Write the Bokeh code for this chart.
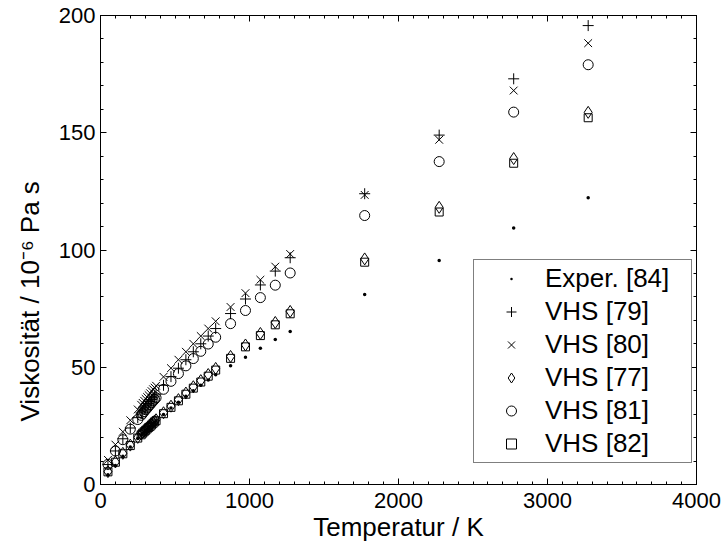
from bokeh.plotting import figure
from bokeh.models import (LinearAxis, Range1d, SingleIntervalTicker, Legend, LegendItem,
                          Title, CustomJSTickFormatter)
from bokeh.embed import file_html
from bokeh.resources import INLINE

# Temperature in K
temperature = [50, 100, 150, 200, 250, 273, 283, 293, 303, 313, 323, 333, 343, 353, 363, 373,
               423, 473, 523, 573, 623, 673, 723, 773, 873, 973, 1073, 1173, 1273,
               1773, 2273, 2773, 3273]
# Viscosity in 1e-6 Pa s
exper_84 = [4.2, 8.1, 12.1, 16.0, 19.6, 21.0, 21.7, 22.3, 22.9, 23.5, 24.1, 24.7, 25.3, 25.9, 26.5, 27.1,
            29.9, 32.6, 35.1, 37.6, 40.0, 42.3, 44.6, 46.8, 50.6, 54.3, 58.1, 61.8, 65.2,
            81.0, 95.5, 109.4, 122.3]
vhs_79 = [8.5, 14.3, 19.5, 24.1, 28.5, 30.5, 31.3, 32.1, 33.0, 33.8, 34.6, 35.4, 36.2, 37.0, 37.7, 38.5,
          42.3, 46.0, 49.6, 53.2, 56.6, 60.0, 63.3, 66.5, 72.9, 79.1, 85.1, 91.0, 96.7,
          124.0, 149.0, 173.0, 195.7]
vhs_80 = [10.5, 17.0, 22.5, 27.4, 32.0, 34.0, 34.8, 35.7, 36.5, 37.3, 38.1, 38.9, 39.8, 40.6, 41.3, 42.1,
          45.9, 49.6, 53.2, 56.6, 60.0, 63.3, 66.5, 69.6, 75.7, 81.6, 87.3, 92.9, 98.3,
          123.5, 147.0, 168.0, 188.2]
vhs_77 = [5.5, 9.6, 13.3, 16.8, 20.1, 21.5, 22.2, 22.8, 23.4, 24.0, 24.6, 25.2, 25.8, 26.5, 27.1, 27.6,
          30.6, 33.4, 36.2, 39.0, 41.7, 44.3, 46.9, 49.5, 54.6, 59.5, 64.4, 69.1, 73.8,
          96.2, 118.2, 139.0, 158.7]
vhs_81 = [8.6, 14.3, 19.1, 23.6, 27.7, 29.5, 30.3, 31.1, 31.9, 32.6, 33.4, 34.1, 34.9, 35.6, 36.3, 37.0,
          40.6, 44.0, 47.3, 50.6, 53.7, 56.8, 59.9, 62.8, 68.6, 74.2, 79.7, 85.0, 90.2,
          114.7, 137.7, 158.8, 179.0]
vhs_82 = [5.4, 9.5, 13.1, 16.6, 19.8, 21.2, 21.9, 22.5, 23.1, 23.7, 24.3, 24.8, 25.4, 26.1, 26.7, 27.2,
          30.2, 32.9, 35.7, 38.5, 41.1, 43.7, 46.2, 48.8, 53.8, 58.7, 63.5, 68.1, 72.8,
          94.8, 116.2, 137.0, 156.4]

legend_labels = ["Exper. [84]", "VHS [79]", "VHS [80]", "VHS [77]", "VHS [81]", "VHS [82]"]
x_title = "Temperatur / K"
y_title = "Viskosität / 10⁻⁶ Pa s"

FONT = "Liberation Sans"

p = figure(width=726, height=549, output_backend="svg", toolbar_location=None,
           x_range=Range1d(0, 4000), y_range=Range1d(0, 200),
           min_border_left=100, min_border_right=30, min_border_top=15, min_border_bottom=65)
p.background_fill_color = "white"
p.border_fill_color = "white"
p.outline_line_color = "black"
p.outline_line_width = 1
p.xgrid.visible = False
p.ygrid.visible = False


def style_axis(ax, show_labels=True):
    ax.major_tick_in = 6
    ax.major_tick_out = 0
    ax.minor_tick_in = 3
    ax.minor_tick_out = 0
    ax.axis_line_color = "black"
    ax.major_tick_line_color = "black"
    ax.minor_tick_line_color = "black"
    ax.major_label_text_font = FONT
    ax.major_label_text_color = "black"
    ax.axis_label_text_font = FONT
    ax.axis_label_text_font_style = "normal"
    ax.axis_label_text_color = "black"
    if not show_labels:
        ax.formatter = CustomJSTickFormatter(code="return ''")
        ax.major_label_standoff = 0


xa = p.xaxis[0]
xa.ticker = SingleIntervalTicker(interval=1000, num_minor_ticks=10)
style_axis(xa)
xa.major_label_text_font_size = "22px"
xa.major_label_standoff = 8
xa.axis_label = x_title
xa.axis_label_text_font_size = "26px"
xa.axis_label_standoff = 1

ya = p.yaxis[0]
ya.ticker = SingleIntervalTicker(interval=50, num_minor_ticks=5)
style_axis(ya)
ya.major_label_text_font_size = "22px"
ya.major_label_standoff = 5

top = LinearAxis(ticker=SingleIntervalTicker(interval=1000, num_minor_ticks=10))
style_axis(top, show_labels=False)
p.add_layout(top, "above")
right = LinearAxis(ticker=SingleIntervalTicker(interval=50, num_minor_ticks=5))
style_axis(right, show_labels=False)
p.add_layout(right, "right")

# y-axis title: sits somewhat lower than the frame centre, as in the reference
ytitle = Title(text=y_title, align="left", offset=63, vertical_align="middle",
               standoff=20, text_font=FONT, text_font_size="26px",
               text_font_style="normal", text_color="black")
p.add_layout(ytitle, "left")

r_exp = p.scatter(temperature, exper_84, marker="dot", size=14,
                  line_color="black", fill_color="black")
r79 = p.scatter(temperature, vhs_79, marker="cross", size=11,
                line_color="black", line_width=1)
r80 = p.scatter(temperature, vhs_80, marker="x", size=11,
                line_color="black", line_width=1)
r77 = p.scatter(temperature, vhs_77, marker="diamond", size=12,
                line_color="black", fill_color=None, line_width=1)
r81 = p.scatter(temperature, vhs_81, marker="circle", size=10,
                line_color="black", fill_color=None, line_width=1)
r82 = p.scatter(temperature, vhs_82, marker="square", size=8,
                line_color="black", fill_color=None, line_width=1)

legend = Legend(items=[LegendItem(label=l, renderers=[r])
                       for l, r in zip(legend_labels, [r_exp, r79, r80, r77, r81, r82])])
legend.location = (373, 21)
legend.label_text_font = FONT
legend.label_text_font_size = "26px"
legend.label_text_color = "black"
legend.border_line_color = "black"
legend.border_line_width = 1
legend.background_fill_color = "white"
legend.background_fill_alpha = 1.0
legend.glyph_width = 68
legend.glyph_height = 25
legend.label_height = 30
legend.label_width = 143
legend.label_standoff = 0
legend.spacing = 2
legend.padding = 3
legend.margin = 0
p.add_layout(legend, "center")

open("out.html", "w").write(file_html(p, INLINE))
